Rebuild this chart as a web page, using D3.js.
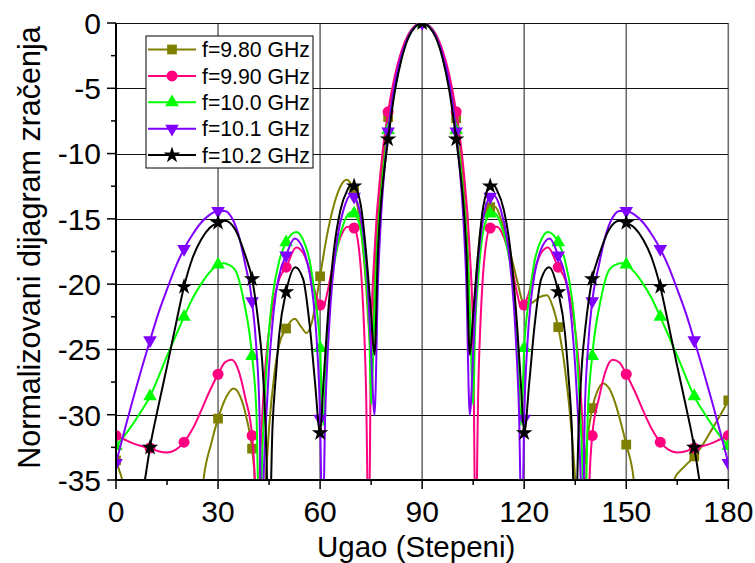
<!DOCTYPE html>
<html><head><meta charset="utf-8">
<script src="https://cdn.jsdelivr.net/npm/d3@7"></script>
<style>body{margin:0;background:#fff} text{font-family:Arial,"Liberation Sans",sans-serif}</style>
</head><body><svg id="c" width="755" height="563"></svg>
<script>
// ---------- data ----------
const xTicks = [0, 30, 60, 90, 120, 150, 180];
const xMinor = [15, 45, 75, 105, 135, 165];
const yTicks = [0, -5, -10, -15, -20, -25, -30, -35];
const yMinor = [-2.5, -7.5, -12.5, -17.5, -22.5, -27.5, -32.5];
const seriesNames = ["f=9.80 GHz", "f=9.90 GHz", "f=10.0 GHz", "f=10.1 GHz", "f=10.2 GHz"];

// [angle (deg), normalized pattern (dB)]
const f980 = [[0,-33.5],[1,-34.3],[2,-35.3],[3,-40],[24,-40],[25.7,-35],[28,-32.2],[30,-30.3],[32.5,-28.6],[34.6,-28.0],[36.5,-28.6],[38.5,-30.4],[40,-32.6],[40.8,-35],[41.5,-40],[43,-40],[44,-35],[45,-31],[46.5,-27],[48,-24.6],[50,-23.4],[52.5,-22.65],[54.5,-23.3],[56,-23.75],[57.5,-23],[59,-21],[60,-19.4],[62,-16.3],[64,-14],[66,-12.5],[67.8,-12.0],[69,-12.3],[70,-12.9],[72,-15.8],[73.5,-20],[74.5,-24],[75.3,-26],[76,-20],[77,-14.8],[78,-11.8],[80,-7.2],[82,-4.3],[84,-2.2],[86,-0.9],[88,-0.2],[90,0],[92,-0.2],[94,-0.9],[96,-2.3],[98,-4.5],[100,-7.3],[102,-11.8],[103.5,-18],[104.5,-25],[105.5,-21],[107,-16.2],[108.5,-14.6],[110,-14.1],[111.5,-14.1],[113,-14.9],[116,-17.7],[118,-19.8],[119.5,-21.3],[121,-21.6],[122.5,-21.4],[124.5,-21.0],[126.7,-20.85],[128.5,-21.8],[130,-23.3],[132,-26.5],[134,-31.5],[135,-35],[136,-40],[136.7,-38],[137.4,-35],[138.5,-32],[140,-29.5],[141.5,-28.2],[143.2,-27.6],[145,-28.0],[147,-29.3],[148.5,-30.7],[150,-32.3],[152.2,-35],[153.5,-40],[162.5,-40],[164,-35],[167,-34],[170,-33.2],[172.5,-32.3],[175,-31.2],[177.5,-30.1],[180,-28.9]];

const f990 = [[0,-31.6],[2.5,-31.9],[5,-32.2],[7.5,-32.4],[10,-32.55],[12.5,-32.8],[15,-32.9],[17.5,-32.7],[20,-32.1],[22.5,-31.1],[25,-29.7],[27.5,-28.2],[30,-26.9],[32,-26.0],[34,-25.8],[36,-26.6],[38,-28.7],[40,-31.6],[40.8,-35],[41.3,-40],[42,-36],[43,-30],[44,-26],[46,-21.8],[48,-19.6],[50,-18.7],[53,-17.2],[55,-17.6],[57,-19.0],[59,-21.0],[60,-21.6],[60.8,-21.9],[62,-20.8],[64,-18.2],[66,-16.4],[68,-15.6],[70,-15.7],[71.5,-17.5],[72.5,-21],[73.5,-28],[74.3,-40],[75,-24],[76,-17.5],[78,-10.8],[80,-6.8],[82,-4.0],[84,-2.1],[86,-0.85],[88,-0.2],[90,0],[92,-0.2],[94,-0.85],[96,-2.1],[98,-4.0],[100,-6.8],[102,-10.8],[104,-17.5],[105,-24],[105.7,-40],[106.5,-28],[107.5,-21],[108.5,-17.5],[110,-15.7],[112,-15.6],[114,-16.4],[116,-18.2],[118,-20.8],[119.2,-21.9],[120,-21.6],[121,-21.0],[123,-19.0],[125,-17.6],[127,-17.2],[130,-18.7],[132,-19.6],[134,-21.8],[136,-26],[137,-30],[138,-36],[138.7,-40],[139.2,-35],[140,-31.6],[142,-28.7],[144,-26.6],[146,-25.8],[148,-26.0],[150,-26.9],[152.5,-28.2],[155,-29.7],[157.5,-31.1],[160,-32.1],[162.5,-32.7],[165,-32.9],[167.5,-32.8],[170,-32.55],[172.5,-32.4],[175,-32.2],[177.5,-31.9],[180,-31.6]];

const f1000 = [[0,-32.4],[2.5,-31.6],[5,-30.7],[7.5,-29.7],[10,-28.6],[12.5,-27.1],[15,-25.5],[17.5,-24.0],[20,-22.5],[22.5,-21.1],[25,-20.0],[27.5,-19.1],[30,-18.5],[31.5,-18.4],[33,-18.5],[35,-18.9],[37.5,-21.2],[40,-25.5],[41.3,-30],[42.2,-40],[43,-33],[44,-27.5],[45,-23.5],[46,-21],[48,-18.2],[50,-16.8],[53,-16.0],[55,-16.6],[57,-18.3],[58.5,-21],[60,-24.9],[60.9,-30.8],[61.8,-26],[63,-21],[65,-17.2],[67,-15.3],[69,-14.5],[70,-14.6],[72,-15.9],[73.5,-19.5],[74.5,-24],[75,-29.2],[76,-22],[77,-16.3],[78,-13],[80,-8.2],[82,-4.9],[84,-2.6],[86,-1.0],[88,-0.25],[90,0],[92,-0.25],[94,-1.0],[96,-2.6],[98,-4.9],[100,-8.2],[102,-13],[103,-16.3],[104,-22],[105,-29.2],[105.5,-24],[106.5,-19.5],[108,-15.9],[110,-14.6],[111,-14.5],[113,-15.3],[115,-17.2],[117,-21],[118.2,-26],[119.1,-30.8],[120,-24.9],[121.5,-21],[123,-18.3],[125,-16.6],[127,-16.0],[130,-16.8],[132,-18.2],[134,-21],[135,-23.5],[136,-27.5],[137,-33],[137.8,-40],[138.7,-30],[140,-25.5],[142.5,-21.2],[145,-18.9],[147,-18.5],[148.5,-18.4],[150,-18.5],[152.5,-19.1],[155,-20.0],[157.5,-21.1],[160,-22.5],[162.5,-24.0],[165,-25.5],[167.5,-27.1],[170,-28.6],[172.5,-29.7],[175,-30.7],[177.5,-31.6],[180,-32.4]];

const f1010 = [[0,-33.7],[2.5,-31.2],[5,-28.8],[7.5,-26.5],[10,-24.3],[12.5,-22.2],[15,-20.4],[17.5,-18.7],[20,-17.3],[22.5,-16.2],[25,-15.3],[27.5,-14.7],[30,-14.4],[32,-14.4],[34,-14.9],[36,-16.2],[38,-18.5],[40,-21.3],[41.2,-24.7],[42.2,-30],[42.8,-40],[43.5,-34],[44.2,-30],[45,-26.3],[46,-23],[47,-20.7],[48.5,-18.8],[50,-17.8],[52.5,-16.5],[55,-17.3],[57,-19.3],[58,-21.2],[59,-24.3],[60,-30.3],[60.7,-40],[61.5,-30],[62.2,-25.5],[63,-21.8],[65,-16.6],[67,-14.2],[69,-13.2],[70,-13.3],[72,-14.9],[74,-19.9],[75,-25.3],[76,-30],[77,-20],[78,-14.5],[79,-11],[80,-8.3],[82,-4.6],[84,-2.4],[86,-1.0],[88,-0.25],[90,0],[92,-0.25],[94,-1.0],[96,-2.4],[98,-4.6],[100,-8.3],[101,-11],[102,-14.5],[103,-20],[104,-30],[105,-25.3],[106,-19.9],[108,-14.9],[110,-13.3],[111,-13.2],[113,-14.2],[115,-16.6],[117,-21.8],[117.8,-25.5],[118.5,-30],[119.3,-40],[120,-30.3],[121,-24.3],[122,-21.2],[123,-19.3],[125,-17.3],[127.5,-16.5],[130,-17.8],[131.5,-18.8],[133,-20.7],[134,-23],[135,-26.3],[135.8,-30],[136.5,-34],[137.2,-40],[137.8,-30],[138.8,-24.7],[140,-21.3],[142,-18.5],[144,-16.2],[146,-14.9],[148,-14.4],[150,-14.4],[152.5,-14.7],[155,-15.3],[157.5,-16.2],[160,-17.3],[162.5,-18.7],[165,-20.4],[167.5,-22.2],[170,-24.3],[172.5,-26.5],[175,-28.8],[177.5,-31.2],[180,-33.7]];

const f1020 = [[0,-45],[5,-40],[8.5,-35],[10,-32.5],[12.5,-29.3],[15,-26.3],[17.5,-23.2],[20,-20.2],[22.5,-18.0],[25,-16.6],[27.5,-15.7],[30,-15.3],[32,-15.15],[35,-15.8],[38,-17.8],[40,-19.6],[42,-23.3],[43,-26],[44,-31],[45,-40],[46,-31],[47,-27],[48,-23.8],[50,-20.6],[52.7,-18.7],[55,-19.6],[57,-23.3],[58.5,-27.5],[60,-31.4],[61,-27.5],[62,-23.5],[64,-17.5],[66,-14.3],[68,-12.8],[69,-12.4],[70,-12.5],[72,-14.0],[74,-19],[75,-22.3],[76,-25.4],[77,-17.5],[78,-13.5],[79,-11.0],[80,-8.9],[82,-5.2],[84,-2.7],[86,-1.1],[88,-0.3],[90,0],[92,-0.3],[94,-1.1],[96,-2.7],[98,-5.2],[100,-8.9],[101,-11.0],[102,-13.5],[103,-17.5],[104,-25.4],[105,-22.3],[106,-19],[108,-14.0],[110,-12.5],[111,-12.4],[112,-12.8],[114,-14.3],[116,-17.5],[118,-23.5],[119,-27.5],[120,-31.4],[121.5,-27.5],[123,-23.3],[125,-19.6],[127.3,-18.7],[130,-20.6],[132,-23.8],[133,-27],[134,-31],[135,-40],[136,-31],[137,-26],[138,-23.3],[140,-19.6],[142,-17.8],[145,-15.8],[148,-15.15],[150,-15.3],[152.5,-15.7],[155,-16.6],[157.5,-18.0],[160,-20.2],[162.5,-23.2],[165,-26.3],[167.5,-29.3],[170,-32.5],[171.5,-35],[175,-40],[180,-45]];

const seriesData = [f980, f990, f1000, f1010, f1020];
const colors = ["#808000", "#ff0080", "#00ff00", "#8000ff", "#000000"];

// ---------- layout ----------
const svg = d3.select("#c");
const L = 116, R = 728.3, T = 23, B = 480;
const x = d3.scaleLinear().domain([0, 180]).range([L, R]);
const y = d3.scaleLinear().domain([-35, 0]).range([B, T]);

svg.append("rect").attr("width", 755).attr("height", 563).attr("fill", "#fff");
svg.append("defs").append("clipPath").attr("id", "clip")
  .append("rect").attr("x", L).attr("y", T).attr("width", R - L).attr("height", B - T);

// grid
const grid = svg.append("g");
grid.selectAll("line.v").data(xTicks.filter(d => d > 0)).enter().append("line")
  .attr("x1", d => x(d)).attr("x2", d => x(d)).attr("y1", T).attr("y2", B)
  .attr("stroke", "#6e6e6e").attr("stroke-width", 1.6);
grid.selectAll("line.h").data(yTicks.filter(d => d > -35)).enter().append("line")
  .attr("x1", L).attr("x2", R).attr("y1", d => Math.round(y(d)) + 0.5).attr("y2", d => Math.round(y(d)) + 0.5)
  .attr("stroke", "#111").attr("stroke-width", 1);

// series
const line = d3.line().x(d => x(d[0])).y(d => y(d[1])).curve(d3.curveMonotoneX);
const symbols = [d3.symbolSquare, d3.symbolCircle, d3.symbolTriangle, d3.symbolTriangle, d3.symbolStar];
const symSizes = [95, 95, 80, 80, 85];
const rotations = [0, 0, 0, 180, 0];

const plot = svg.append("g").attr("clip-path", "url(#clip)");
seriesData.forEach((s, i) => {
  plot.append("path").datum(s).attr("d", line)
    .attr("fill", "none").attr("stroke", colors[i]).attr("stroke-width", 2).attr("stroke-linejoin", "round");
  const sym = d3.symbol().type(symbols[i]).size(symSizes[i]);
  plot.selectAll(null).data(s.filter(d => d[0] % 10 === 0)).enter().append("path")
    .attr("d", sym)
    .attr("transform", d => `translate(${x(d[0])},${y(d[1])}) rotate(${rotations[i]})`)
    .attr("fill", colors[i]);
});

// axes
const ax = svg.append("g").attr("stroke", "#000");
ax.append("line").attr("x1", L).attr("x2", L).attr("y1", T).attr("y2", B + 1).attr("stroke-width", 2);
ax.append("line").attr("x1", L - 1).attr("x2", R + 1).attr("y1", B).attr("y2", B).attr("stroke-width", 2);
ax.selectAll("line.yt").data(yTicks).enter().append("line")
  .attr("x1", L - 9).attr("x2", L).attr("y1", d => y(d)).attr("y2", d => y(d)).attr("stroke-width", 1.5);
ax.selectAll("line.ym").data(yMinor).enter().append("line")
  .attr("x1", L - 5).attr("x2", L).attr("y1", d => y(d)).attr("y2", d => y(d)).attr("stroke-width", 1.5);
ax.selectAll("line.xt").data(xTicks).enter().append("line")
  .attr("x1", d => x(d)).attr("x2", d => x(d)).attr("y1", B).attr("y2", B + 9).attr("stroke-width", 1.5);
ax.selectAll("line.xm").data(xMinor).enter().append("line")
  .attr("x1", d => x(d)).attr("x2", d => x(d)).attr("y1", B).attr("y2", B + 5).attr("stroke-width", 1.5);

// tick labels
svg.selectAll("text.yl").data(yTicks).enter().append("text")
  .attr("x", L - 15).attr("y", d => y(d)).attr("dy", "0.36em")
  .attr("text-anchor", "end").attr("font-size", 30).text(d => d);
svg.selectAll("text.xl").data(xTicks).enter().append("text")
  .attr("x", d => x(d)).attr("y", B + 42)
  .attr("text-anchor", "middle").attr("font-size", 30).text(d => d);

// titles
svg.append("text").attr("x", x(90) - 6).attr("y", 557).attr("text-anchor", "middle")
  .attr("font-size", 29.5).text("Ugao (Stepeni)");
svg.append("text").attr("transform", `translate(40,${(T + B) / 2 - 4}) rotate(-90)`)
  .attr("text-anchor", "middle").attr("font-size", 30.5).text("Normalizovani dijagram zračenja");

// legend
const lg = svg.append("g");
lg.append("rect").attr("x", 146).attr("y", 36).attr("width", 167).attr("height", 132)
  .attr("fill", "#fff").attr("stroke", "#000").attr("stroke-width", 1);
seriesNames.forEach((n, i) => {
  const yy = 49.5 + i * 26.4;
  lg.append("line").attr("x1", 148).attr("x2", 196).attr("y1", yy).attr("y2", yy)
    .attr("stroke", colors[i]).attr("stroke-width", 2);
  lg.append("path").attr("d", d3.symbol().type(symbols[i]).size(symSizes[i]))
    .attr("transform", `translate(172,${yy}) rotate(${rotations[i]})`).attr("fill", colors[i]);
  lg.append("text").attr("x", 202).attr("y", yy).attr("dy", "0.36em")
    .attr("font-size", 21.5).attr("textLength", 108).attr("lengthAdjust", "spacingAndGlyphs").text(n);
});
</script></body></html>
